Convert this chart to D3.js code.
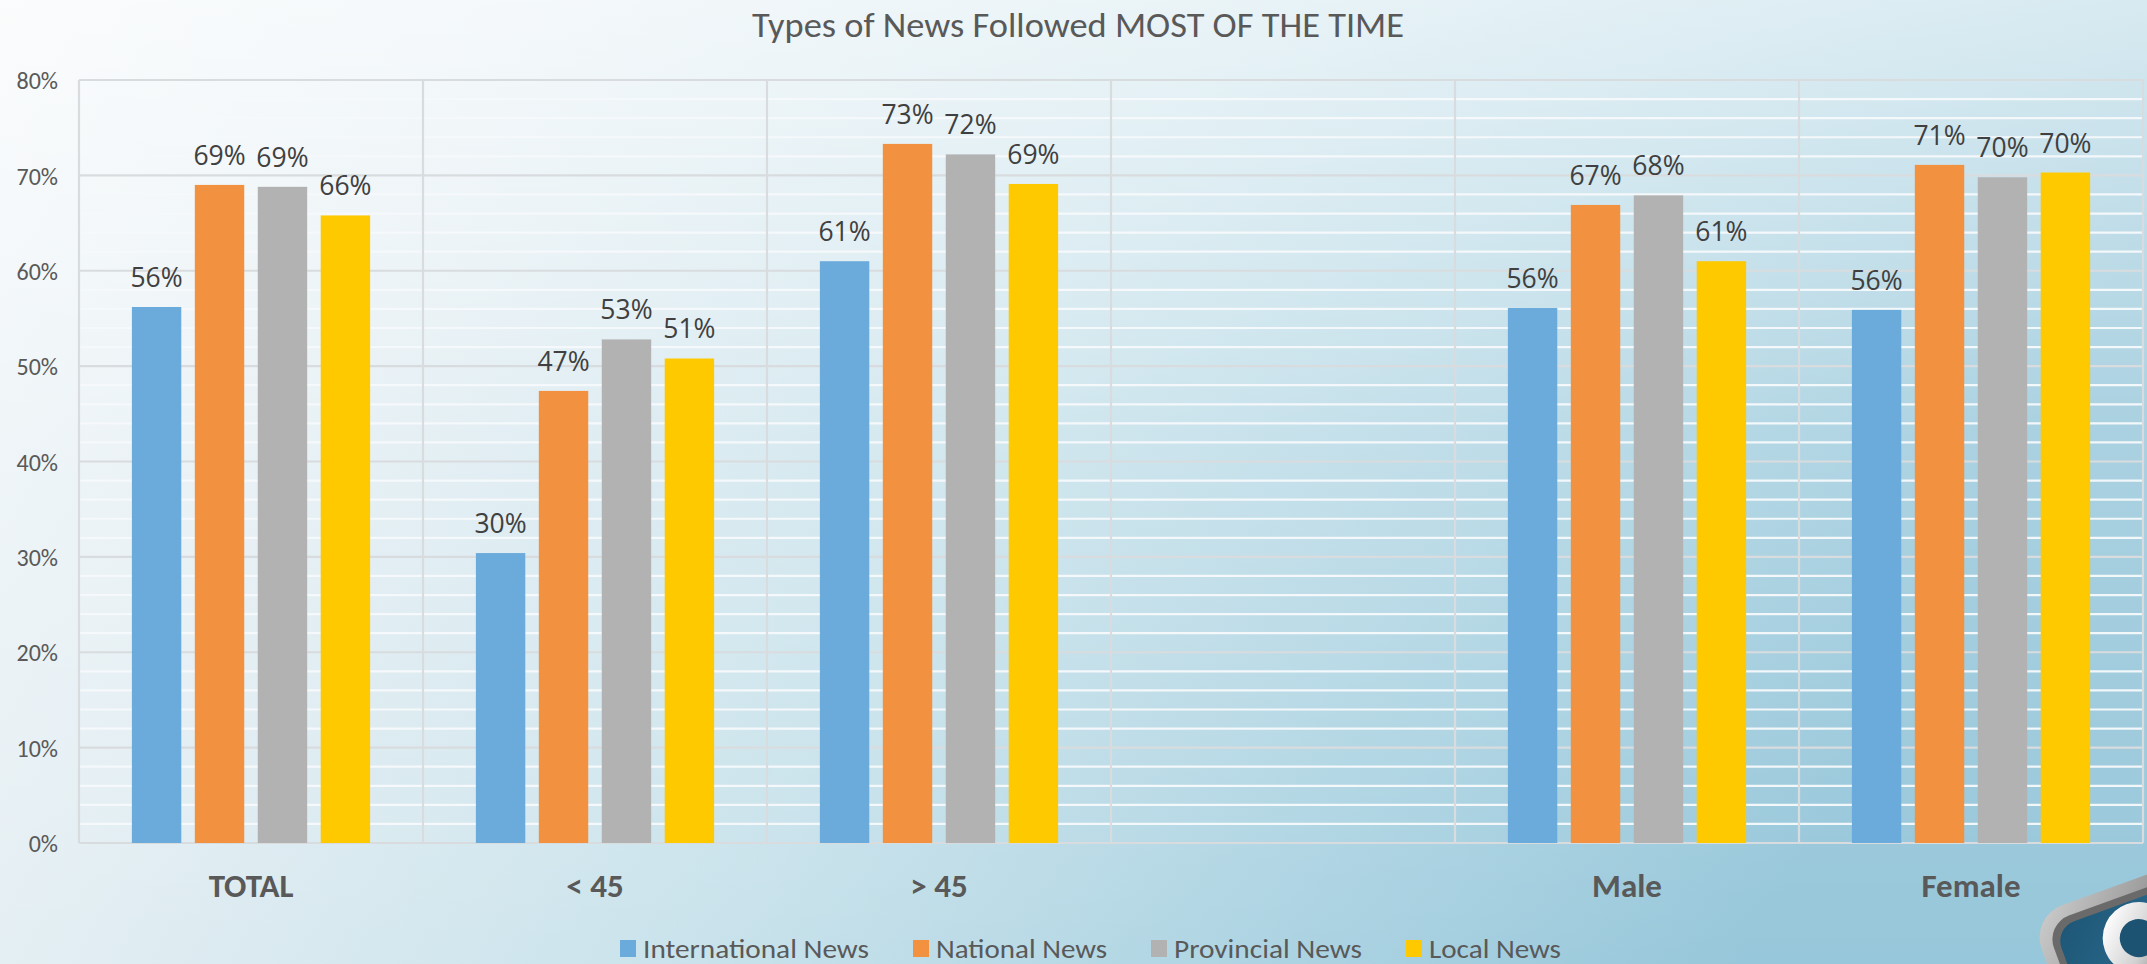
<!DOCTYPE html>
<html>
<head>
<meta charset="utf-8">
<script src="https://cdn.jsdelivr.net/npm/d3@7/dist/d3.min.js"></script>
<style>
  html, body { margin: 0; padding: 0; overflow: hidden; background: #eef4f7; }
  svg { display: block; }
</style>
</head>
<body>
<svg id="chart" width="2147" height="964"></svg>
<script>
// ---------------- DATA ----------------
const categories = ["TOTAL", "< 45", "> 45", "", "Male", "Female"];
const seriesNames = ["International News", "National News", "Provincial News", "Local News"];
const internationalNews = [56.2, 30.4, 61.0, null, 56.1, 55.9];
const nationalNews      = [69.0, 47.4, 73.3, null, 66.9, 71.1];
const provincialNews    = [68.8, 52.8, 72.2, null, 67.9, 69.8];
const localNews         = [65.8, 50.8, 69.1, null, 61.0, 70.3];
const yTickValues = [0, 10, 20, 30, 40, 50, 60, 70, 80];
const titleText = "Types of News Followed MOST OF THE TIME";

// ---------------- STYLE ----------------
const W = 2147, H = 964;
const seriesColors = ["#6aabdc", "#f29240", "#b2b2b2", "#ffc900"];
const calibri = "Carlito, Lato, 'Open Sans', sans-serif";
const labelFont = "'Open Sans', 'Noto Sans', sans-serif";
const margin = { left: 79, right: 4, top: 80, bottom: 123 };

const svg = d3.select("#chart");
const defs = svg.append("defs");

// background: horizontal gradient + whitish vertical overlay
const bg = defs.append("linearGradient").attr("id", "bg")
  .attr("x1", 0).attr("y1", 0).attr("x2", 1).attr("y2", 0.25);
[[0, "#f3f7f9"], [0.25, "#e3eef3"], [0.55, "#c8e2eb"], [0.8, "#acd3e2"], [1, "#97c7da"]]
  .forEach(([o, c]) => bg.append("stop").attr("offset", o).attr("stop-color", c));
const ov = defs.append("linearGradient").attr("id", "ov")
  .attr("x1", 0).attr("y1", 0).attr("x2", 0).attr("y2", 1);
[[0, 0.6], [0.45, 0.18], [1, 0]]
  .forEach(([o, a]) => ov.append("stop").attr("offset", o).attr("stop-color", "#ffffff").attr("stop-opacity", a));
svg.append("rect").attr("width", W).attr("height", H).attr("fill", "url(#bg)");
svg.append("rect").attr("width", W).attr("height", H).attr("fill", "url(#ov)");

// ---------------- SCALES ----------------
const x0 = d3.scaleBand().domain(categories).range([margin.left, W - margin.right]).padding(0);
const x1 = d3.scaleBand().domain(seriesNames).range([0, x0.bandwidth()])
  .paddingInner(0.215).paddingOuter(0.84);
const y = d3.scaleLinear().domain([0, 80]).range([H - margin.bottom + 2, margin.top]);

const plotL = x0.range()[0], plotR = x0.range()[1];

// minor gridlines (white) every 2%
const minor = d3.range(0, 81, 2).filter(v => v % 10 !== 0);
svg.append("g").selectAll("line").data(minor).join("line")
  .attr("x1", plotL).attr("x2", plotR)
  .attr("y1", d => y(d)).attr("y2", d => y(d))
  .attr("stroke", "#f7fafc").attr("stroke-width", 2.2).attr("opacity", 0.95);

// major gridlines
svg.append("g").selectAll("line").data(yTickValues).join("line")
  .attr("x1", plotL).attr("x2", plotR)
  .attr("y1", d => y(d)).attr("y2", d => y(d))
  .attr("stroke", "#d9dcde").attr("stroke-width", 2.2);

// vertical category separators
const vlines = categories.map(c => x0(c)).concat([plotR]);
svg.append("g").selectAll("line").data(vlines).join("line")
  .attr("x1", d => d).attr("x2", d => d)
  .attr("y1", y(80)).attr("y2", y(0))
  .attr("stroke", "#d9dcde").attr("stroke-width", 2.2);

// ---------------- BARS ----------------
const seriesData = [internationalNews, nationalNews, provincialNews, localNews];
const rows = [];
categories.forEach((c, i) => {
  seriesNames.forEach((s, j) => {
    const v = seriesData[j][i];
    if (v !== null) rows.push({ cat: c, series: s, value: v, color: seriesColors[j] });
  });
});

svg.append("g").selectAll("rect").data(rows).join("rect")
  .attr("x", d => x0(d.cat) + x1(d.series))
  .attr("y", d => y(d.value))
  .attr("width", x1.bandwidth())
  .attr("height", d => y(0) - y(d.value))
  .attr("fill", d => d.color);

svg.append("g").selectAll("text").data(rows).join("text")
  .attr("x", d => x0(d.cat) + x1(d.series) + x1.bandwidth() / 2)
  .attr("y", d => y(d.value) - 20)
  .attr("text-anchor", "middle")
  .attr("font-family", labelFont)
  .attr("font-size", 26.5)
  .attr("fill", "#404040")
  .text(d => Math.round(d.value) + "%");

// ---------------- AXES ----------------
const yAxis = svg.append("g").attr("transform", `translate(${plotL},0)`)
  .call(d3.axisLeft(y).tickValues(yTickValues).tickFormat(d => d + "%").tickSize(0).tickPadding(21));
yAxis.select(".domain").remove();
yAxis.selectAll("text")
  .attr("font-family", calibri).attr("font-size", 24).attr("fill", "#595959")
  .attr("dy", "0.36em");

const xAxis = svg.append("g").attr("transform", `translate(0,${y(0)})`)
  .call(d3.axisBottom(x0).tickSize(0));
xAxis.select(".domain").remove();
xAxis.selectAll("text")
  .attr("y", 54).attr("dy", null)
  .attr("font-family", calibri).attr("font-weight", "bold")
  .attr("font-size", 33).attr("fill", "#595959");

// ---------------- TITLE ----------------
svg.append("text")
  .attr("x", 1078).attr("y", 37)
  .attr("text-anchor", "middle")
  .attr("font-family", calibri).attr("font-size", 35)
  .attr("textLength", 652).attr("lengthAdjust", "spacingAndGlyphs")
  .attr("fill", "#595959")
  .text(titleText);

// ---------------- LEGEND ----------------
const legendWidths = [226, 171, 188, 132];
const legend = svg.append("g");
let lx = 620;
seriesNames.forEach((s, i) => {
  legend.append("rect").attr("x", lx).attr("y", 940).attr("width", 16).attr("height", 17)
    .attr("fill", seriesColors[i]);
  legend.append("text").attr("x", lx + 23).attr("y", 958)
    .attr("font-family", calibri).attr("font-size", 27).attr("fill", "#595959")
    .attr("textLength", legendWidths[i]).attr("lengthAdjust", "spacingAndGlyphs")
    .text(s);
  lx += 23 + legendWidths[i] + 44;
});

// ---------------- LOGO (bottom-right corner) ----------------
const lg1 = defs.append("linearGradient").attr("id", "bevel").attr("x1", 0).attr("y1", 0).attr("x2", 0.3).attr("y2", 0.3);
lg1.append("stop").attr("offset", 0).attr("stop-color", "#fafafa");
lg1.append("stop").attr("offset", 0.1).attr("stop-color", "#c8c8c8");
lg1.append("stop").attr("offset", 1).attr("stop-color", "#8a8a8a");
const lg2 = defs.append("linearGradient").attr("id", "inner").attr("x1", 0).attr("y1", 0).attr("x2", 0.4).attr("y2", 0.4);
lg2.append("stop").attr("offset", 0).attr("stop-color", "#1e5675");
lg2.append("stop").attr("offset", 1).attr("stop-color", "#2f739a");
const lg3 = defs.append("linearGradient").attr("id", "ring").attr("x1", 0).attr("y1", 0).attr("x2", 1).attr("y2", 1);
lg3.append("stop").attr("offset", 0).attr("stop-color", "#ffffff");
lg3.append("stop").attr("offset", 0.6).attr("stop-color", "#d0d0d0");
lg3.append("stop").attr("offset", 1).attr("stop-color", "#8c8c8c");
const logo = svg.append("g").attr("transform", "translate(2030,917) rotate(-20)");
logo.append("rect").attr("x", 0).attr("y", 0).attr("width", 300).attr("height", 300).attr("rx", 34)
  .attr("fill", "url(#bevel)");
logo.append("rect").attr("x", 12).attr("y", 12).attr("width", 280).attr("height", 280).attr("rx", 25)
  .attr("fill", "#6a6a6a");
logo.append("rect").attr("x", 19).attr("y", 19).attr("width", 270).attr("height", 270).attr("rx", 21)
  .attr("fill", "url(#inner)");
logo.append("circle").attr("cx", 95).attr("cy", 57).attr("r", 27.5)
  .attr("fill", "#1d5372").attr("stroke", "url(#ring)").attr("stroke-width", 17);
</script>
</body>
</html>
